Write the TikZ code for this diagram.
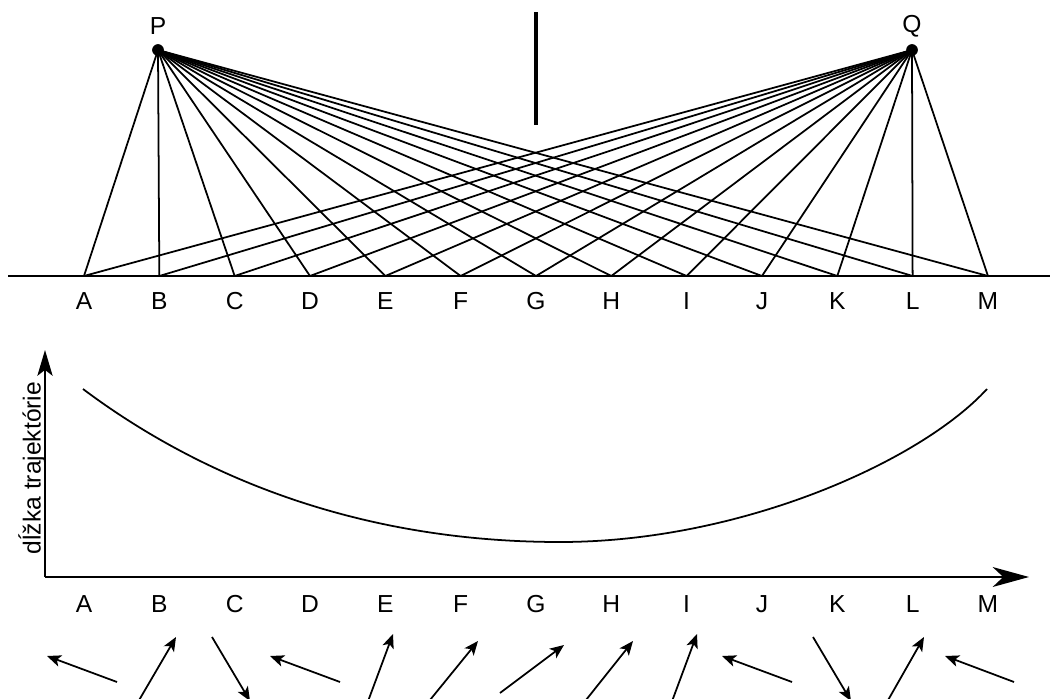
\documentclass[tikz,border=0pt]{standalone}
\usepackage{fontspec}
\setmainfont{Liberation Sans}
\usetikzlibrary{arrows.meta}
\begin{document}
\begin{tikzpicture}[x=0.03cm,y=-0.03cm,
  ray/.style={line width=1.5pt},
  lbl/.style={font=\fontsize{21}{24}\selectfont, inner sep=0pt},
  dotnode/.style={circle, fill=black, inner sep=0pt, minimum size=10pt},
  vec/.style={line width=1.5pt, -{Stealth[length=12pt,width=10pt,inset=3pt]}},
  axis/.style={line width=1.6pt}
]
\useasboundingbox (0,0) rectangle (1052,699);
\clip (0,0) rectangle (1052,699);
% ground line
\coordinate (g0) at (8,276);
\coordinate (g1) at (1050,276);
\draw[ray] (g0) -- (g1);
% ground points and labels
\foreach \n [count=\i from 0] in {A,B,C,D,E,F,G,H,I,J,K,L,M}{
  \coordinate (\n) at ({84+75.33*\i},276);
  \node[lbl] (t\n) at ({84+75.33*\i},301) {\n};
  \node[lbl] (b\n) at ({84+75.33*\i},604) {\n};
}
% sources
\node[dotnode] (P) at (158,50) {};
\node[dotnode] (Q) at (912,50) {};
\node[lbl] (Plab) at (158,26) {P};
\node[lbl] (Qlab) at (912,26) {Q};
\foreach \n in {A,B,C,D,E,F,G,H,I,J,K,L,M}{
  \draw[ray] (P.center) -- (\n);
  \draw[ray] (Q.center) -- (\n);
}
% wall
\coordinate (w0) at (536,12);
\coordinate (w1) at (536,125);
\draw[line width=3.6pt] (w0) -- (w1);
% axes
\coordinate (O) at (45,577);
\coordinate (Y) at (45,350);
\coordinate (X) at (1029,577);
\draw[axis, -{Stealth[length=22pt,width=13pt,inset=5pt]}] (O) -- (Y);
\draw[axis, -{Stealth[length=31pt,width=17pt,inset=9pt]}] (O) -- (X);
\node[lbl, rotate=90] (ylab) at (32,468) {dĺžka trajektórie};
% curve
\coordinate (c0) at (83,389);
\coordinate (cm) at (560,542);
\coordinate (c1) at (987,389);
\draw[line width=1.5pt] (c0) .. controls (183,464) and (340,542) .. (cm)
  .. controls (740,542) and (920,462) .. (c1);
% direction arrows
\coordinate (a1s) at (117,682); \coordinate (a1e) at (47,656);
\coordinate (a2s) at (138,702); \coordinate (a2e) at (176,637);
\coordinate (a3s) at (212,637); \coordinate (a3e) at (250,701);
\coordinate (a4s) at (340,682); \coordinate (a4e) at (270,656);
\coordinate (a5s) at (367,704); \coordinate (a5e) at (393,634);
\coordinate (a6s) at (430,700); \coordinate (a6e) at (478,641);
\coordinate (a7s) at (500,693); \coordinate (a7e) at (564,645);
\coordinate (a8s) at (586,700); \coordinate (a8e) at (633,641);
\coordinate (a9s) at (671,704); \coordinate (a9e) at (697,634);
\coordinate (a10s) at (792,682); \coordinate (a10e) at (722,656);
\coordinate (a11s) at (813,637); \coordinate (a11e) at (851,701);
\coordinate (a12s) at (887,702); \coordinate (a12e) at (924,637);
\coordinate (a13s) at (1014,682); \coordinate (a13e) at (945,656);
\foreach \k in {1,...,13}{
  \draw[vec] (a\k s) -- (a\k e);
}
\end{tikzpicture}
\end{document}
